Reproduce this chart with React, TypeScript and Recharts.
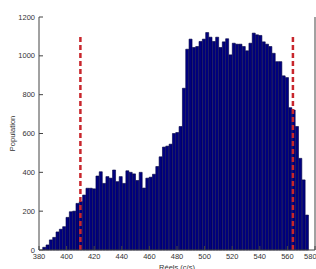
import { BarChart, Bar, XAxis, YAxis, ReferenceLine } from 'recharts'

// histogram bins (c/s)
const binStart = 382.7
const binWidth = 2.41
const population = [
  14, 26, 52, 65, 93, 107, 120, 168, 197, 200,
  240, 249, 283, 318, 318, 315, 381, 403, 343, 378,
  370, 412, 352, 378, 343, 408, 400, 392, 358, 400,
  319, 370, 375, 390, 430, 480, 530, 535, 545, 600,
  605, 636, 833, 1034, 1086, 1043, 1048, 1074, 1086, 1120,
  1096, 1074, 1096, 1043, 1072, 1088, 1005, 1065, 1060, 1060,
  1048, 1026, 1065, 1117, 1108, 1105, 1072, 1060, 1048, 1013,
  970, 970, 897, 888, 733, 721, 636, 472, 361, 180
]
const xTicks = [380, 400, 420, 440, 460, 480, 500, 520, 540, 560, 580]
const yTicks = [0, 200, 400, 600, 800, 1000, 1200]
const limits = [410, 564]
const limitTop = 1100

const data = population.map((p, i) => ({
  x: binStart + binWidth * (i + 0.5),
  population: p
}))

const tickStyle = { fontSize: 7.5, fill: '#333', fontFamily: 'Liberation Sans, Arial, sans-serif' }

const PopLabel = ({ viewBox }: any) => {
  const cx = viewBox.x + 12.5
  const cy = viewBox.y + viewBox.height / 2
  return (
    <text
      x={cx}
      y={cy}
      transform={`rotate(-90 ${cx} ${cy})`}
      textAnchor="middle"
      dominantBaseline="central"
      style={tickStyle}
    >
      Population
    </text>
  )
}

export default function App() {
  return (
    <div style={{ position: 'absolute', left: 0, top: 0, background: '#fff' }}>
      <BarChart
        width={316}
        height={269}
        data={data}
        margin={{ top: 17, right: 0, bottom: 0, left: 0 }}
        barCategoryGap={0}
        barGap={0}
      >
        <XAxis
          dataKey="x"
          type="number"
          domain={[380, 580]}
          ticks={xTicks}
          allowDataOverflow
          height={19}
          tickSize={-4}
          tickMargin={8}
          stroke="#444"
          tick={tickStyle}
          label={{ value: 'Réels (c/s)', position: 'insideBottom', offset: -1, style: tickStyle }}
        />
        <XAxis
          xAxisId="top"
          orientation="top"
          type="number"
          domain={[380, 580]}
          ticks={xTicks}
          allowDataOverflow
          height={0}
          tickSize={-4}
          tick={false}
          stroke="#444"
        />
        <YAxis
          type="number"
          domain={[0, 1200]}
          ticks={yTicks}
          width={39}
          tickSize={-4}
          tickMargin={8}
          stroke="#444"
          tick={tickStyle}
          label={PopLabel}
        />
        <YAxis
          yAxisId="right"
          orientation="right"
          type="number"
          domain={[0, 1200]}
          ticks={yTicks}
          width={1}
          tickSize={-4}
          tick={false}
          stroke="#444"
        />
        <Bar
          dataKey="population"
          fill="#000080"
          stroke="#000040"
          strokeWidth={0.6}
          isAnimationActive={false}
        />
        {limits.map((v) => (
          <ReferenceLine
            key={v}
            segment={[{ x: v, y: 0 }, { x: v, y: limitTop }]}
            stroke="#c8262c"
            strokeWidth={2.5}
            strokeDasharray="5 3"
          />
        ))}
      </BarChart>
    </div>
  )
}
